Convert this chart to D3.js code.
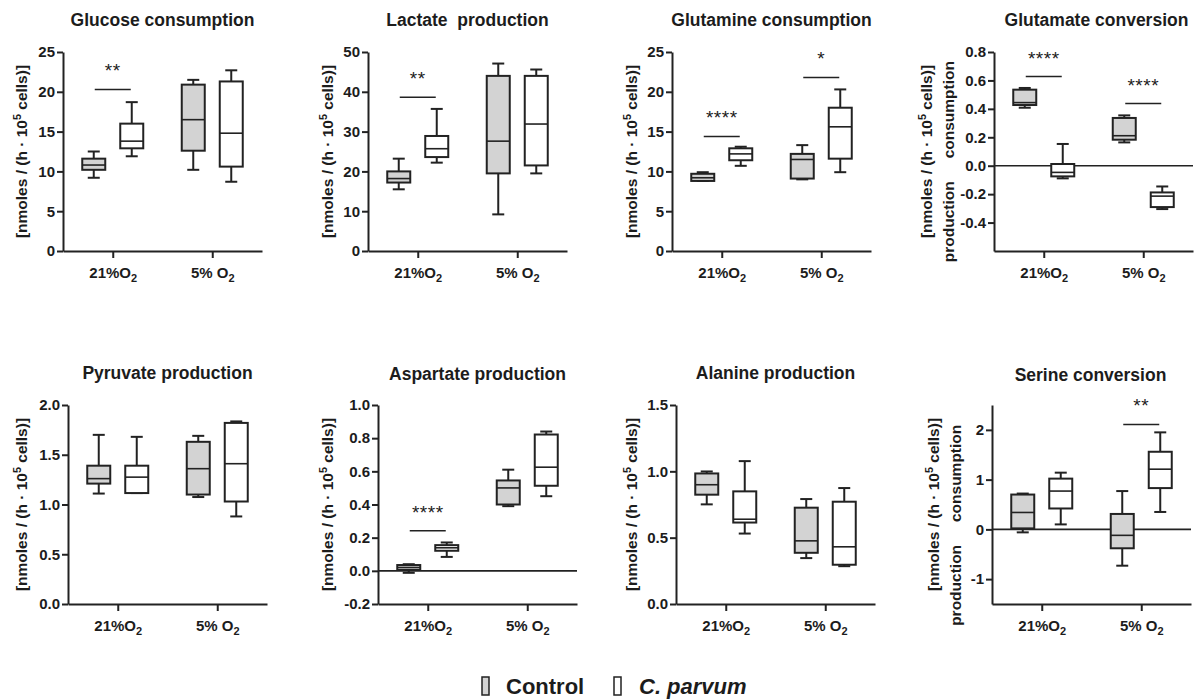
<!DOCTYPE html>
<html>
<head>
<meta charset="utf-8">
<script src="https://cdn.jsdelivr.net/npm/d3@7"></script>
<style>
  body { margin: 0; background: white; }
  text { font-family: "Liberation Sans", Arial, sans-serif; fill: #1c1c1c; }
</style>
</head>
<body>
<div id="container"></div>
<script>
let w = 1195;
let h = 700;
let pw = 199;
let ph = 199;
let ink = "#222";

// ---- data ----
const titles = ["Glucose consumption", "Lactate  production", "Glutamine consumption", "Glutamate conversion",
  "Pyruvate production", "Aspartate production", "Alanine production", "Serine conversion"];
const groups = ["21%O", "5% O"];
const series = ["Control", "C. parvum"];

const yDomains = [[0, 25], [0, 50], [0, 25], [-0.6, 0.8], [0, 2], [-0.2, 1], [0, 1.5], [-1.5, 2.5]];
const yTicks = [
  [0, 5, 10, 15, 20, 25],
  [0, 10, 20, 30, 40, 50],
  [0, 5, 10, 15, 20, 25],
  [-0.4, -0.2, 0, 0.2, 0.4, 0.6, 0.8],
  [0, 0.5, 1, 1.5, 2],
  [-0.2, 0, 0.2, 0.4, 0.6, 0.8, 1],
  [0, 0.5, 1, 1.5],
  [-1, 0, 1, 2]
];
const tickFormats = ["d", "d", "d", ".1f", ".1f", ".1f", ".1f", "d"];

// [min, q1, median, q3, max] for 21% O2 and 5% O2
const glucoseCtrl = [[9.2, 10.2, 10.8, 11.6, 12.5], [10.2, 12.6, 16.5, 20.9, 21.5]];
const glucoseParv = [[11.9, 12.9, 13.8, 16.0, 18.7], [8.7, 10.6, 14.8, 21.3, 22.7]];
const lactateCtrl = [[15.5, 17.2, 18.2, 20.0, 23.2], [9.2, 19.5, 27.6, 44.0, 47.1]];
const lactateParv = [[22.2, 23.6, 25.7, 28.9, 35.7], [19.5, 21.5, 31.9, 44.0, 45.6]];
const glutamineCtrl = [[8.8, 8.8, 9.2, 9.7, 9.9], [9.0, 9.1, 11.5, 12.2, 13.3]];
const glutamineParv = [[10.7, 11.4, 12.2, 12.9, 13.1], [9.9, 11.6, 15.6, 18.0, 20.3]];
const glutamateCtrl = [[0.408, 0.427, 0.444, 0.535, 0.547], [0.164, 0.183, 0.211, 0.336, 0.354]];
const glutamateParv = [[-0.089, -0.075, -0.047, 0.012, 0.153], [-0.305, -0.291, -0.214, -0.188, -0.146]];
const pyruvateCtrl = [[1.11, 1.21, 1.26, 1.39, 1.70], [1.075, 1.10, 1.36, 1.63, 1.69]];
const pyruvateParv = [[1.115, 1.115, 1.275, 1.39, 1.68], [0.88, 1.03, 1.41, 1.82, 1.835]];
const aspartateCtrl = [[-0.012, 0.005, 0.02, 0.035, 0.04], [0.39, 0.40, 0.50, 0.545, 0.61]];
const aspartateParv = [[0.084, 0.121, 0.139, 0.155, 0.171], [0.45, 0.513, 0.625, 0.822, 0.84]];
const alanineCtrl = [[0.751, 0.824, 0.899, 0.984, 0.999], [0.346, 0.386, 0.476, 0.726, 0.791]];
const alanineParv = [[0.531, 0.614, 0.639, 0.849, 1.077], [0.285, 0.296, 0.431, 0.771, 0.874]];
const serineCtrl = [[-0.06, 0.02, 0.34, 0.70, 0.72], [-0.73, -0.38, -0.12, 0.31, 0.77]];
const serineParv = [[0.10, 0.42, 0.77, 1.02, 1.14], [0.35, 0.83, 1.21, 1.56, 1.95]];

const controlData = [glucoseCtrl, lactateCtrl, glutamineCtrl, glutamateCtrl, pyruvateCtrl, aspartateCtrl, alanineCtrl, serineCtrl];
const parvumData = [glucoseParv, lactateParv, glutamineParv, glutamateParv, pyruvateParv, aspartateParv, alanineParv, serineParv];

// significance: [panel, group, y value, stars]
const sigMarks = [
  [0, 0, 20.3, "**"],
  [1, 0, 38.6, "**"],
  [2, 0, 14.4, "****"],
  [2, 1, 21.8, "*"],
  [3, 0, 0.627, "****"],
  [3, 1, 0.437, "****"],
  [5, 0, 0.241, "****"],
  [7, 1, 2.11, "**"]
];
const zeroLinePanels = [3, 5, 7];
const splitLabelPanels = [3, 7];

// ---- layout ----
const panelX = [63, 368, 672, 994, 68, 378, 676, 992];
const panelY = [52, 52, 52, 52, 405, 405, 405, 405];
const titleY = [26, 26, 26, 26, 379, 380, 379, 381];
const titleShift = [0, 0, 0, 3, 0, 0, 0, -1];
const yLabelOff = [36, 35, 35, 62, 41, 45, 39, 53];
const fills = ["#d3d3d3", "#ffffff"];

let locale = d3.formatLocale({ decimal: ".", thousands: ",", grouping: [3], currency: ["", ""], minus: "-" });

let svg = d3.select("#container")
  .append("svg")
  .attr("width", w)
  .attr("height", h)
  .style("background-color", "white");

function addYLabel(g, x, y, size) {
  let t = g.append("text")
    .attr("transform", "translate(" + x + "," + y + ") rotate(-90)")
    .attr("text-anchor", "middle")
    .attr("font-size", size)
    .attr("font-weight", "bold");
  t.append("tspan").text("[nmoles / (h \u00b7 10");
  t.append("tspan").text("5").attr("font-size", size * 0.7).attr("dy", -size * 0.4);
  t.append("tspan").text(" cells)]").attr("dy", size * 0.4);
}

titles.forEach(function(title, p) {
  let g = svg.append("g").attr("transform", "translate(" + panelX[p] + "," + panelY[p] + ")");

  let x = d3.scalePoint().domain(groups).range([0, pw]).padding(0.5);
  let xs = d3.scalePoint().domain(series).range([-19, 19]);
  let y = d3.scaleLinear().domain(yDomains[p]).range([ph, 0]);

  // title
  g.append("text")
    .text(title)
    .attr("x", pw / 2 + titleShift[p])
    .attr("y", titleY[p] - panelY[p])
    .attr("text-anchor", "middle")
    .attr("font-size", 17.5)
    .attr("font-weight", "bold")
    .style("white-space", "pre");

  // zero line
  if (zeroLinePanels.includes(p)) {
    g.append("line")
      .attr("x1", 0).attr("x2", pw)
      .attr("y1", y(0)).attr("y2", y(0))
      .attr("stroke", ink).attr("stroke-width", 1.6);
  }

  // y axis
  let yAxis = g.append("g")
    .call(d3.axisLeft(y).tickValues(yTicks[p]).tickFormat(locale.format(tickFormats[p]))
      .tickSize(6).tickPadding(2).tickSizeOuter(0));
  yAxis.select(".domain").attr("stroke", ink).attr("stroke-width", 2);
  yAxis.selectAll(".tick line").attr("stroke", ink).attr("stroke-width", 2);
  yAxis.selectAll(".tick text").attr("font-size", 15).attr("font-weight", "bold")
    .attr("font-family", null).attr("fill", "#1c1c1c");

  // x axis
  let xAxis = g.append("g")
    .attr("transform", "translate(0," + ph + ")")
    .call(d3.axisBottom(x).tickSize(7).tickSizeOuter(0).tickFormat(""));
  xAxis.select(".domain").attr("stroke", ink).attr("stroke-width", 2);
  xAxis.selectAll(".tick line").attr("stroke", ink).attr("stroke-width", 2);
  xAxis.selectAll(".tick").each(function(d) {
    let t = d3.select(this).append("text")
      .attr("y", 27)
      .attr("text-anchor", "middle")
      .attr("font-size", 15)
      .attr("font-weight", "bold")
      .attr("fill", "#1c1c1c");
    t.append("tspan").text(d);
    t.append("tspan").text("2").attr("font-size", 11).attr("dy", 4);
  });

  // y label
  addYLabel(g, -yLabelOff[p], ph / 2, 15.5);
  if (splitLabelPanels.includes(p)) {
    let x2 = -yLabelOff[p] + 22;
    g.append("text")
      .text("consumption")
      .attr("transform", "translate(" + x2 + "," + (y(0) - 56) + ") rotate(-90)")
      .attr("text-anchor", "middle").attr("font-size", 15.5).attr("font-weight", "bold");
    g.append("text")
      .text("production")
      .attr("transform", "translate(" + x2 + "," + (y(0) + 56) + ") rotate(-90)")
      .attr("text-anchor", "middle").attr("font-size", 15.5).attr("font-weight", "bold");
  }

  // boxes
  let boxes = [];
  groups.forEach(function(gr, gi) {
    boxes.push({ g: gr, s: series[0], v: controlData[p][gi], fill: fills[0] });
    boxes.push({ g: gr, s: series[1], v: parvumData[p][gi], fill: fills[1] });
  });

  let bw = 23;
  let cap = 12;
  let bx = g.selectAll(".box").data(boxes).enter()
    .append("g")
    .attr("class", "box")
    .attr("transform", function(d) { return "translate(" + (x(d.g) + xs(d.s)) + ",0)"; });

  bx.append("line")
    .attr("x1", 0).attr("x2", 0)
    .attr("y1", function(d) { return y(d.v[4]); })
    .attr("y2", function(d) { return y(d.v[0]); })
    .attr("stroke", ink).attr("stroke-width", 2);
  bx.append("line")
    .attr("x1", -cap / 2).attr("x2", cap / 2)
    .attr("y1", function(d) { return y(d.v[4]); })
    .attr("y2", function(d) { return y(d.v[4]); })
    .attr("stroke", ink).attr("stroke-width", 2);
  bx.append("line")
    .attr("x1", -cap / 2).attr("x2", cap / 2)
    .attr("y1", function(d) { return y(d.v[0]); })
    .attr("y2", function(d) { return y(d.v[0]); })
    .attr("stroke", ink).attr("stroke-width", 2);
  bx.append("rect")
    .attr("x", -bw / 2)
    .attr("width", bw)
    .attr("y", function(d) { return y(d.v[3]); })
    .attr("height", function(d) { return Math.max(y(d.v[1]) - y(d.v[3]), 0.5); })
    .attr("fill", function(d) { return d.fill; })
    .attr("stroke", ink).attr("stroke-width", 2);
  bx.append("line")
    .attr("x1", -bw / 2).attr("x2", bw / 2)
    .attr("y1", function(d) { return y(d.v[2]); })
    .attr("y2", function(d) { return y(d.v[2]); })
    .attr("stroke", ink).attr("stroke-width", 1.6);

  // significance
  sigMarks.filter(function(s) { return s[0] === p; }).forEach(function(s) {
    let cx = x(groups[s[1]]);
    g.append("line")
      .attr("x1", cx - 18).attr("x2", cx + 18)
      .attr("y1", y(s[2])).attr("y2", y(s[2]))
      .attr("stroke", ink).attr("stroke-width", 1.5);
    g.append("text")
      .text(s[3])
      .attr("x", cx)
      .attr("y", y(s[2]) - 12)
      .attr("text-anchor", "middle")
      .attr("font-size", 19)
      .attr("letter-spacing", 0.5);
  });
});

// legend
let legend = svg.append("g").attr("transform", "translate(482,677)");
legend.append("rect").attr("x", 0).attr("y", 0).attr("width", 7).attr("height", 18)
  .attr("fill", fills[0]).attr("stroke", ink).attr("stroke-width", 1.5);
legend.append("text").text(series[0]).attr("x", 24).attr("y", 17)
  .attr("font-size", 22).attr("font-weight", "bold");
legend.append("rect").attr("x", 132).attr("y", 0).attr("width", 7).attr("height", 18)
  .attr("fill", fills[1]).attr("stroke", ink).attr("stroke-width", 1.5);
legend.append("text").text(series[1]).attr("x", 157).attr("y", 17)
  .attr("font-size", 22).attr("font-weight", "bold").attr("font-style", "italic");
</script>
</body>
</html>
